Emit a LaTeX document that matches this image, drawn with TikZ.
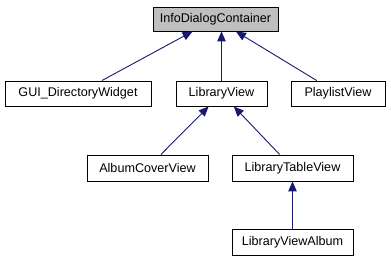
\documentclass[tikz,border=0pt]{standalone}
\usepackage{fontspec}
\setmainfont{Liberation Sans}
\usetikzlibrary{arrows.meta}
\definecolor{edgeblue}{HTML}{191970}
\definecolor{basegray}{HTML}{BFBFBF}
\begin{document}
\begin{tikzpicture}[x=1pt,y=-1pt,
  cls/.style={draw=black, line width=0.9pt, fill=white, inner sep=0pt,
    minimum height=25pt, font=\fontsize{12.6}{14}\selectfont},
  rootcls/.style={cls, fill=basegray},
  inherit/.style={draw=edgeblue, line width=0.9pt,
    -{Triangle[length=10pt,width=8.5pt]}}]
\useasboundingbox[fill=white] (0,0) rectangle (391,261);

% classes
\node[rootcls, minimum width=125pt, minimum height=24pt] (idc) at (215.5,19) {InfoDialogContainer};
\node[cls, minimum width=146pt] (gui) at (78,93.5) {GUI\_DirectoryWidget};
\node[cls, minimum width=91pt]  (lv)  at (221.5,93.5) {LibraryView};
\node[cls, minimum width=94pt]  (pv)  at (338,93.5) {PlaylistView};
\node[cls, minimum width=121pt, minimum height=26pt] (acv) at (147.5,168) {AlbumCoverView};
\node[cls, minimum width=121pt, minimum height=26pt] (ltv) at (292.5,168) {LibraryTableView};
\node[cls, minimum width=121pt, minimum height=26pt] (lva) at (292.5,242) {LibraryViewAlbum};

% inheritance arrows, pointing at the base class
\draw[inherit] (gui) -- (idc);
\draw[inherit] (lv.north) -- (lv.north |- idc.south);
\draw[inherit] (pv) -- (idc);
\draw[inherit] (acv) -- (lv);
\draw[inherit] (ltv) -- (lv);
\draw[inherit] (lva) -- (ltv);
\end{tikzpicture}
\end{document}
